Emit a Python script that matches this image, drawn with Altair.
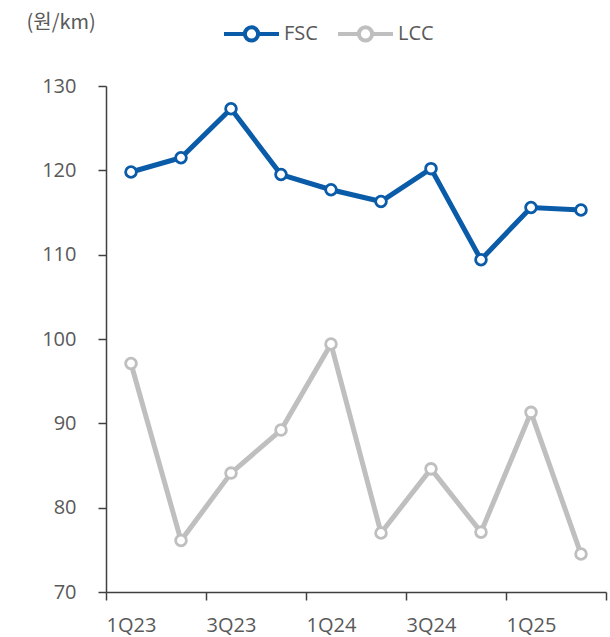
import altair as alt
import pandas as pd

# Quarterly yield (원/km) for full-service vs low-cost carriers
quarters = ["1Q23", "2Q23", "3Q23", "4Q23", "1Q24", "2Q24", "3Q24", "4Q24", "1Q25", "2Q25"]
fsc = [119.8, 121.5, 127.3, 119.5, 117.7, 116.3, 120.2, 109.4, 115.6, 115.3]
lcc = [97.1, 76.1, 84.1, 89.2, 99.4, 77.0, 84.6, 77.1, 91.3, 74.5]
series = ["FSC", "LCC"]
colors = ["#0A5BA8", "#BFBFBF"]
y_ticks = [70, 80, 90, 100, 110, 120, 130]

rows = []
for name, vals in zip(series, [fsc, lcc]):
    for i, (q, v) in enumerate(zip(quarters, vals)):
        # each quarter sits in the middle of its own slot on the x axis
        rows.append({"분기": q, "pos": i + 0.5, "구분": name, "값": v})
df = pd.DataFrame(rows)

FONT = "Open Sans"
TEXT = "#595959"
AXIS = "#404040"

label_array = "[" + ",".join(f"'{q}'" for q in quarters) + "]"

x_enc = alt.X(
    "pos:Q",
    scale=alt.Scale(domain=[0, len(quarters)], nice=False, zero=False),
    axis=alt.Axis(
        values=list(range(0, len(quarters) + 1, 2)),
        labelExpr=f"datum.value < {len(quarters)} ? {label_array}[datum.value] : ''",
        labelOffset=25,
        labelFlush=False,
        labelPadding=15,
        grid=False,
        title=None,
    ),
)
y_enc = alt.Y(
    "값:Q",
    scale=alt.Scale(domain=[70, 130], nice=False, zero=False),
    axis=alt.Axis(
        values=y_ticks,
        grid=False,
        title="(원/km)",
        titleAngle=0,
        titleAlign="left",
        titleBaseline="middle",
        titleX=-80,
        titleY=-64,
        titleFont="Noto Sans CJK KR",
        titleFontSize=20,
        titleFontWeight="normal",
        titleColor=TEXT,
        labelPadding=22,
    ),
)

legend_symbol = (
    "M-1,0 L-0.24,0 M0.24,0 L1,0 "
    "M-0.24,0 A0.24,0.24 0 1,1 0.24,0 A0.24,0.24 0 1,1 -0.24,0 Z"
)

lines = alt.Chart(df).mark_line(strokeWidth=5).encode(
    x=x_enc,
    y=y_enc,
    color=alt.Color(
        "구분:N",
        scale=alt.Scale(domain=series, range=colors),
        legend=alt.Legend(
            orient="none",
            legendX=116,
            legendY=-82,
            direction="horizontal",
            title=None,
            symbolType=legend_symbol,
            symbolSize=3025,
            symbolStrokeWidth=4,
            symbolFillColor="white",
            labelFont=FONT,
            labelFontSize=20,
            labelColor=TEXT,
            labelOffset=3,
            columnPadding=12,
        ),
    ),
)

points = alt.Chart(df).mark_point(filled=False, fill="white", fillOpacity=1, size=115, strokeWidth=2.8, opacity=1).encode(
    x=x_enc,
    y=y_enc,
    stroke=alt.Stroke("구분:N", scale=alt.Scale(domain=series, range=colors), legend=None),
)

chart = (
    alt.layer(lines, points)
    .properties(
        width=500,
        height=506,
        autosize=alt.AutoSizeParams(type="none"),
        padding={"left": 106, "top": 86, "right": 4, "bottom": 45},
    )
    .configure_view(stroke=None)
    .configure_axis(
        domainColor=AXIS,
        domainWidth=1.5,
        tickColor=AXIS,
        tickWidth=1.5,
        tickSize=8,
        labelFont=FONT,
        labelFontSize=20,
        labelColor=TEXT,
    )
)

chart.save("out.html", embed_options={"renderer": "svg", "actions": False})
